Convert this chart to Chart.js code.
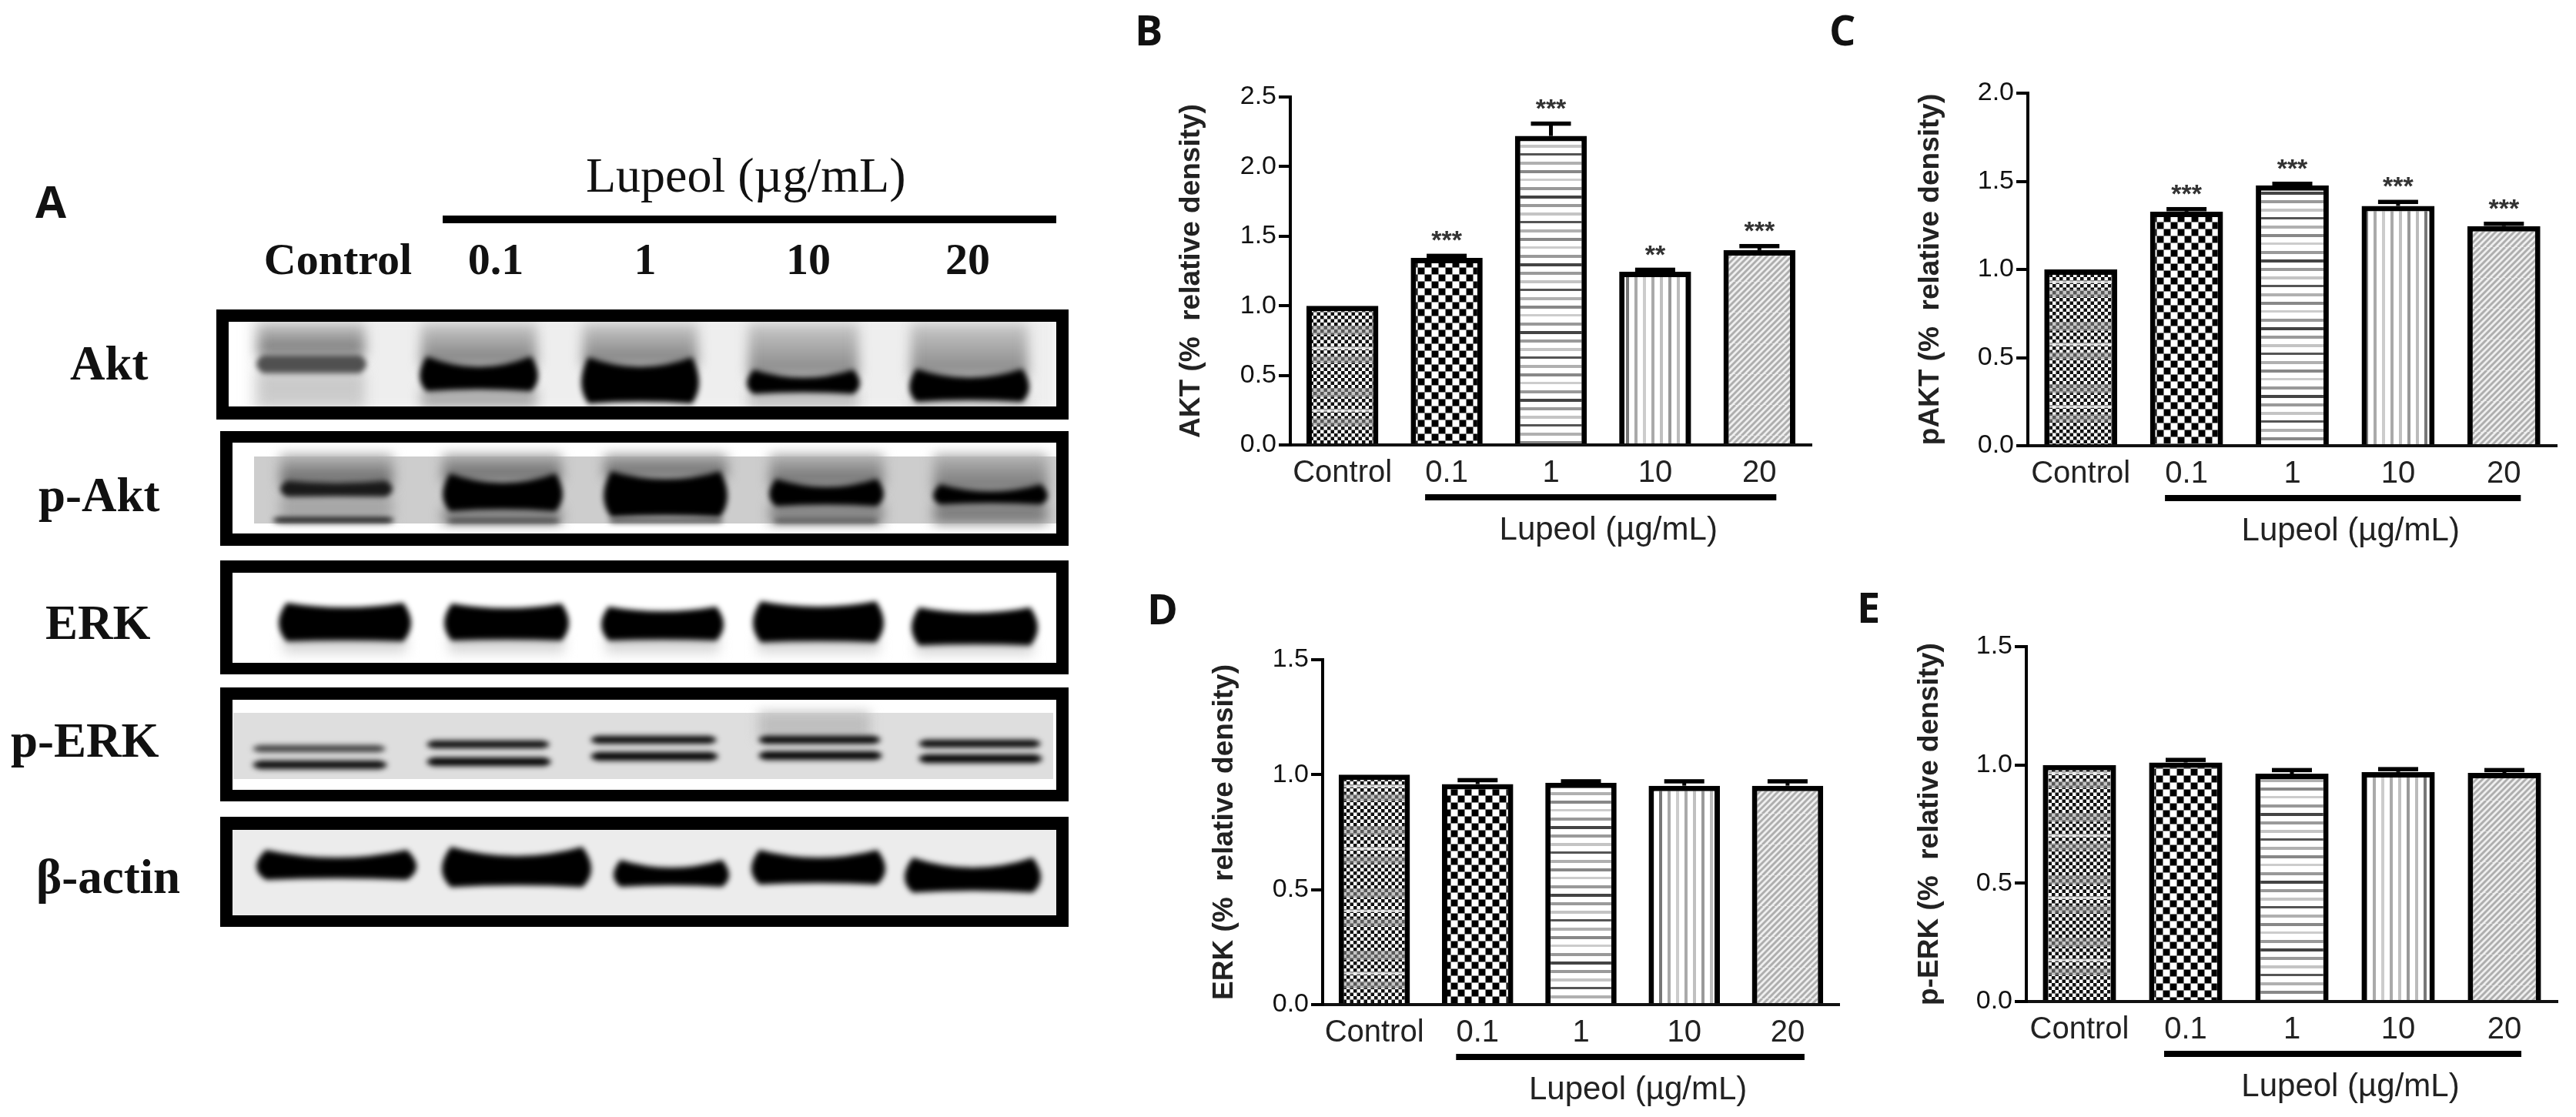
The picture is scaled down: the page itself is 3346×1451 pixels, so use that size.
<!DOCTYPE html>
<html>
<head>
<meta charset="utf-8">
<title>Lupeol western blot</title>
<script src="https://cdn.jsdelivr.net/npm/chart.js@4"></script>
<style>
  html, body { margin: 0; padding: 0; background: #fff; }
  #page { position: relative; width: 3346px; height: 1451px; overflow: hidden; background: #fff; }
  canvas { position: absolute; filter: blur(0.7px); }
  .lbl { position: absolute; white-space: nowrap; line-height: 1; color: #111; filter: blur(0.5px); }
  .serif { font-family: "Liberation Serif", serif; font-weight: bold; }
  .letter { font-family: "Open Sans", sans-serif; font-weight: bold; font-size: 54px; }
</style>
</head>
<body>
<div id="page"></div>
<script>
// ---- chart data ----
const categories = ['Control', '0.1', '1', '10', '20'];
const groupLabel = 'Lupeol (µg/mL)';

const aktValues = [1.0, 1.344, 2.22, 1.245, 1.40];
const aktErrors = [0, 0.016, 0.09, 0.015, 0.03];
const aktStars = ['', '***', '***', '**', '***'];
const aktTicks = [0, 0.5, 1, 1.5, 2, 2.5];

const pAktValues = [1.0, 1.328, 1.477, 1.36, 1.246];
const pAktErrors = [0, 0.015, 0.01, 0.024, 0.014];
const pAktStars = ['', '***', '***', '***', '***'];
const pAktTicks = [0, 0.5, 1, 1.5, 2];

const erkValues = [1.0, 0.959, 0.965, 0.952, 0.952];
const erkErrors = [0, 0.018, 0.007, 0.02, 0.02];
const pErkValues = [1.0, 1.01, 0.963, 0.97, 0.966];
const pErkErrors = [0, 0.012, 0.016, 0.013, 0.013];
const noStars = ['', '', '', '', ''];
const erkTicks = [0, 0.5, 1, 1.5];

// blot panel text
const blotNames = ['Akt', 'p-Akt', 'ERK', 'p-ERK', 'β-actin'];
const laneLabels = ['Control', '0.1', '1', '10', '20'];

// ---- blot bands: x0, x1, top, bottom, end flare, grey level (gel picture units) ----
const aktBands = [
  [333, 476, 461, 485, 0, 80], [545, 699, 476, 506, 13, 0], [755, 908, 476, 522, 12, 0],
  [970, 1117, 490, 510, 10, 0], [1181, 1337, 490, 520, 11, 0]
];
const pAktBands = [
  [364, 510, 627, 645, 3, 25], [354, 512, 672, 679, 0, 15], [575, 731, 627, 662, 12, 0],
  [784, 945, 622, 670, 10, 0], [999, 1148, 632, 656, 10, 0], [1212, 1361, 638, 654, 9, 0],
  [580, 728, 674, 679, 0, 50], [790, 940, 674, 679, 0, 50], [1004, 1142, 674, 679, 0, 70]
];
const erkBands = [
  [362, 534, 789, 832, 6, 0], [577, 739, 790, 831, 6, 0], [781, 940, 794, 831, 6, 0],
  [978, 1148, 788, 833, 7, 0], [1184, 1348, 796, 837, 7, 0]
];
const pErkBands = [
  [328, 501, 968, 977, 0, 60], [328, 503, 988, 999, 0, 10], [554, 714, 962, 972, 0, 10], [554, 716, 984, 995, 0, 0],
  [767, 931, 956, 966, 0, 5], [767, 933, 977, 988, 0, 0], [985, 1144, 956, 966, 0, 0], [985, 1146, 976, 987, 0, 0],
  [1193, 1352, 961, 971, 0, 5], [1193, 1354, 980, 991, 0, 0]
];
const actinBands = [
  [333, 541, 1114, 1141, 10, 0], [574, 768, 1112, 1150, 12, 0], [797, 947, 1127, 1150, 10, 0],
  [976, 1150, 1114, 1147, 10, 0], [1175, 1352, 1127, 1157, 13, 0]
];
// flat gel backgrounds: x0, x1, top, bottom, grey
const aktBacks = [];
const pAktBacks = [[330, 1372, 593, 680, 205]];
const erkBacks = [];
const pErkBacks = [[303, 1368, 926, 1012, 222]];
const actinBacks = [[296, 1372, 1078, 1189, 236]];
// smears: x0, x1, top, bottom, top grey, bottom grey
const aktSmears = [
  [325, 1372, 410, 535, 238, 238],
  [335, 474, 420, 462, 195, 110], [335, 474, 484, 530, 200, 205], [547, 697, 420, 476, 200, 120], [547, 697, 504, 530, 170, 170],
  [757, 906, 420, 476, 200, 120], [972, 1115, 420, 490, 200, 130], [972, 1115, 508, 530, 190, 190],
  [1183, 1335, 420, 490, 200, 130], [1183, 1335, 518, 530, 190, 190]
];
const pAktSmears = [
  [364, 510, 590, 630, 185, 90], [364, 510, 643, 675, 165, 165], [575, 729, 590, 625, 175, 90], [575, 729, 660, 680, 125, 125],
  [785, 944, 590, 620, 175, 90], [1000, 1147, 590, 632, 180, 100], [1000, 1147, 654, 680, 130, 130],
  [1213, 1360, 590, 640, 180, 110], [1213, 1360, 652, 680, 125, 125]
];
const erkSmears = [
  [368, 528, 827, 850, 190, 235], [583, 733, 827, 850, 190, 235], [787, 934, 827, 850, 190, 235],
  [984, 1142, 827, 850, 190, 235], [1190, 1342, 832, 852, 190, 235]
];
const pErkSmears = [[985, 1130, 925, 960, 190, 190]];
const actinSmears = [];

// frames: outer x0, x1, y0, y1, inner y0, y1
const blotFrames = [
  [281, 1388, 402, 545, 418, 528], [286, 1388, 560, 709, 575, 693], [286, 1388, 728, 876, 744, 861],
  [286, 1388, 893, 1041, 909, 1026], [286, 1388, 1061, 1204, 1078, 1189]
];
const blotBands = [aktBands, pAktBands, erkBands, pErkBands, actinBands];
const blotSmears = [aktSmears, pAktSmears, erkSmears, pErkSmears, actinSmears];
const blotBacks = [aktBacks, pAktBacks, erkBacks, pErkBacks, actinBacks];
const blotBaselines = [493, 664, 830, 983, 1160];
const blotNameX = [91, 50, 59, 14, 47];
const laneLabelX = [439, 644, 838, 1050, 1257];

// ---- page ----
const page = document.getElementById('page');

function addText(text, cls, css) {
  const el = document.createElement('div');
  el.className = 'lbl ' + cls;
  el.textContent = text;
  Object.assign(el.style, css);
  page.appendChild(el);
}

function addCanvas(left, top, width, height) {
  const c = document.createElement('canvas');
  c.width = width;
  c.height = height;
  c.style.left = left + 'px';
  c.style.top = top + 'px';
  c.style.width = width + 'px';
  c.style.height = height + 'px';
  page.appendChild(c);
  return c;
}

// ---- hatch patterns ----
function makeTile(w, h, draw) {
  const t = document.createElement('canvas');
  t.width = w;
  t.height = h;
  const g = t.getContext('2d');
  g.fillStyle = '#fff';
  g.fillRect(0, 0, w, h);
  draw(g);
  return document.createElement('canvas').getContext('2d').createPattern(t, 'repeat');
}

function finePattern() {
  return makeTile(27, 81, (g) => {
    const cell = 4.5;
    for (let r = 0; r < 18; r++) {
      for (let c = 0; c < 6; c++) {
        if ((r + c) % 2 === 0) {
          g.fillStyle = '#111';
          g.fillRect(c * cell, r * cell, cell, cell);
        }
      }
    }
    g.fillStyle = 'rgba(150,150,150,0.55)';
    g.fillRect(0, 14, 27, 11);
    g.fillRect(0, 52, 27, 10);
    g.fillStyle = 'rgba(235,235,235,0.8)';
    g.fillRect(0, 41, 27, 3);
  });
}

function checkerPattern() {
  return makeTile(18, 18, (g) => {
    g.fillStyle = '#888';
    g.fillRect(0, 0, 18, 1);
    g.fillRect(0, 9, 18, 1);
    g.fillRect(0, 0, 1, 18);
    g.fillRect(9, 0, 1, 18);
    g.fillStyle = '#000';
    g.fillRect(1, 1, 8, 8);
    g.fillRect(10, 10, 8, 8);
  });
}

function horizPattern() {
  const shades = ['#9a9a9a', '#c4c4c4', '#555', '#b0b0b0', '#888', '#ccc', '#999', '#444'];
  return makeTile(4, 88, (g) => {
    shades.forEach((s, i) => {
      g.fillStyle = s;
      g.fillRect(0, i * 11 + 3, 4, i % 3 === 2 ? 3 : 4);
    });
  });
}

function vertPattern() {
  const shades = ['#aaa', '#c0c0c0', '#999', '#bbb', '#777', '#aaa', '#ccc'];
  return makeTile(77, 4, (g) => {
    shades.forEach((s, i) => {
      g.fillStyle = s;
      g.fillRect(i * 11 + 3, 0, 4, 4);
    });
  });
}

function diagPattern() {
  return makeTile(40, 40, (g) => {
    g.strokeStyle = '#9c9c9c';
    g.lineWidth = 3;
    for (let i = -40; i < 80; i += 8) {
      g.beginPath();
      g.moveTo(i, 40);
      g.lineTo(i + 40, 0);
      g.stroke();
    }
    g.fillStyle = 'rgba(210,210,210,0.35)';
    g.fillRect(0, 0, 40, 40);
  });
}

const barFills = [finePattern(), checkerPattern(), horizPattern(), vertPattern(), diagPattern()];

// ---- bar panels ----
// error bars, stars, the Lupeol bracket under the doses
const barExtras = {
  id: 'barExtras',
  afterDatasetsDraw(chart, args, opts) {
    const ctx = chart.ctx;
    const xs = chart.scales.x;
    const ys = chart.scales.y;
    ctx.save();
    ctx.fillStyle = '#000';
    opts.errors.forEach((err, i) => {
      const x = xs.getPixelForValue(i);
      const top = ys.getPixelForValue(opts.values[i] + err);
      if (err > 0) {
        const base = ys.getPixelForValue(opts.values[i]);
        ctx.fillRect(x - 2.5, top, 5, base - top);
        ctx.fillRect(x - 26, top - 2.5, 52, 5.5);
      }
      if (opts.stars[i]) {
        ctx.fillStyle = '#333';
        ctx.font = 'bold 34px "Liberation Sans"';
        ctx.textAlign = 'center';
        ctx.textBaseline = 'middle';
        ctx.fillText(opts.stars[i], x, top - 18);
        ctx.fillStyle = '#000';
      }
    });
    const base = chart.chartArea.bottom;
    const x0 = xs.getPixelForValue(1) - 28;
    const x1 = xs.getPixelForValue(4) + 22;
    ctx.fillRect(x0, base + 64, x1 - x0, 8);
    ctx.fillStyle = '#222';
    ctx.font = '42px "Liberation Sans"';
    ctx.textAlign = 'center';
    ctx.textBaseline = 'middle';
    ctx.fillText(groupLabel, (x0 + x1) / 2 + 10, base + 111);
    ctx.restore();
  },
};

function barPanel(p) {
  const left = p.titleX - 23;
  const top = p.top - 40;
  const width = p.right + 5 - left;
  const height = p.bottom + 150 - top;
  const canvas = addCanvas(left, top, width, height);
  return new Chart(canvas, {
    type: 'bar',
    data: {
      labels: categories,
      datasets: [{
        data: p.values,
        backgroundColor: barFills,
        borderColor: '#000',
        borderWidth: 7,
        borderSkipped: 'bottom',
        barPercentage: 0.69,
        categoryPercentage: 1,
      }],
    },
    plugins: [barExtras],
    options: {
      responsive: false,
      animation: false,
      layout: { padding: { top: 40, right: 5, left: 0, bottom: 0 } },
      plugins: {
        legend: { display: false },
        tooltip: { enabled: false },
        barExtras: { errors: p.errors, values: p.values, stars: p.stars },
      },
      scales: {
        x: {
          offset: true,
          grid: { display: false },
          border: { display: true, color: '#111', width: 4 },
          ticks: { color: '#222', font: { family: 'Liberation Sans', size: 40 }, padding: 5, maxRotation: 0, autoSkip: false },
          afterFit(s) { s.height = 150; },
        },
        y: {
          min: 0,
          max: p.ticks[p.ticks.length - 1],
          afterBuildTicks(s) { s.ticks = p.ticks.map((v) => ({ value: v })); },
          grid: { drawOnChartArea: false, drawTicks: true, color: '#000', lineWidth: 4, tickLength: 15 },
          border: { display: true, color: '#000', width: 4 },
          ticks: {
            color: '#111',
            font: { family: 'Liberation Sans', size: 34 },
            padding: 3,
            callback: (v) => Number(v).toFixed(1),
          },
          title: {
            display: true,
            text: p.title,
            color: '#222',
            padding: 0,
            font: { family: 'Liberation Sans', size: 37, weight: 'bold' },
          },
          afterFit(s) { s.width = p.left - left; },
        },
      },
    },
  });
}

barPanel({ title: 'AKT (%  relative density)', left: 1676, right: 2353, top: 126, bottom: 578, titleX: 1549, values: aktValues, errors: aktErrors, stars: aktStars, ticks: aktTicks });
barPanel({ title: 'pAKT (%  relative density)', left: 2634, right: 3321, top: 121, bottom: 579, titleX: 2509, values: pAktValues, errors: pAktErrors, stars: pAktStars, ticks: pAktTicks });
barPanel({ title: 'ERK (%  relative density)', left: 1718, right: 2389, top: 857, bottom: 1305, titleX: 1592, values: erkValues, errors: erkErrors, stars: noStars, ticks: erkTicks });
barPanel({ title: 'p-ERK (%  relative density)', left: 2632, right: 3322, top: 840, bottom: 1301, titleX: 2508, values: pErkValues, errors: pErkErrors, stars: noStars, ticks: erkTicks });

// ---- blot panel, same x/y units as the picture ----
const blotPainter = {
  id: 'blotPainter',
  beforeDatasetsDraw(chart) {
    const ctx = chart.ctx;
    const px = (v) => chart.scales.x.getPixelForValue(v);
    const py = (v) => chart.scales.y.getPixelForValue(v);
    blotFrames.forEach((f, b) => {
      const [x0, x1, y0, y1, iy0, iy1] = f;
      ctx.save();
      ctx.fillStyle = '#000';
      ctx.fillRect(px(x0), py(y0), px(x1) - px(x0), py(y1) - py(y0));
      ctx.fillStyle = '#fff';
      const ix0 = px(x0 + 16);
      const ix1 = px(x1 - 16);
      ctx.fillRect(ix0, py(iy0), ix1 - ix0, py(iy1) - py(iy0));
      ctx.beginPath();
      ctx.rect(ix0, py(iy0), ix1 - ix0, py(iy1) - py(iy0));
      ctx.clip();

      blotBacks[b].forEach(([bx0, bx1, top, bot, g]) => {
        ctx.fillStyle = `rgb(${g},${g},${g})`;
        ctx.fillRect(px(bx0), py(top), px(bx1) - px(bx0), py(bot) - py(top));
      });

      ctx.filter = 'blur(8px)';
      blotSmears[b].forEach(([sx0, sx1, top, bot, g0, g1]) => {
        const grad = ctx.createLinearGradient(0, py(top), 0, py(bot));
        grad.addColorStop(0, `rgb(${g0},${g0},${g0})`);
        grad.addColorStop(1, `rgb(${g1},${g1},${g1})`);
        ctx.fillStyle = grad;
        ctx.fillRect(px(sx0), py(top), px(sx1) - px(sx0), py(bot) - py(top));
      });

      ctx.filter = 'blur(3.5px)';
      blotBands[b].forEach(([bx0, bx1, top, bot, flare, grey]) => {
        const l = px(bx0);
        const r = px(bx1);
        const t = py(top);
        const m = py(bot);
        const bow = (r - l) * 0.06;
        ctx.fillStyle = `rgb(${grey},${grey},${grey})`;
        ctx.beginPath();
        ctx.moveTo(l + bow, t - flare);
        ctx.quadraticCurveTo((l + r) / 2, t + flare, r - bow, t - flare);
        ctx.quadraticCurveTo(r + bow, (t + m) / 2, r - bow, m + flare * 0.2);
        ctx.quadraticCurveTo((l + r) / 2, m - flare * 0.2, l + bow, m + flare * 0.2);
        ctx.quadraticCurveTo(l - bow, (t + m) / 2, l + bow, t - flare);
        ctx.fill();
      });
      ctx.restore();
    });
  },
};

new Chart(addCanvas(0, 360, 1420, 880), {
  type: 'scatter',
  data: {
    datasets: blotBands.map((bands) => ({
      data: bands.map((b) => ({ x: (b[0] + b[1]) / 2, y: (b[2] + b[3]) / 2 })),
      pointRadius: 0,
    })),
  },
  plugins: [blotPainter],
  options: {
    responsive: false,
    animation: false,
    plugins: { legend: { display: false }, tooltip: { enabled: false } },
    layout: { padding: 0 },
    scales: {
      x: { type: 'linear', min: 0, max: 1420, display: false },
      y: { type: 'linear', min: 360, max: 1240, reverse: true, display: false },
    },
  },
});

// ---- text and rule of the blot panel, panel letters ----
addText('Lupeol (µg/mL)', '', { left: '761px', top: '196px', fontFamily: '"Liberation Serif", serif', fontSize: '64px' });
const rule = document.createElement('div');
Object.assign(rule.style, { position: 'absolute', left: '575px', top: '280px', width: '797px', height: '10px', background: '#000' });
page.appendChild(rule);

laneLabels.forEach((t, i) => {
  addText(t, 'serif', { left: laneLabelX[i] + 'px', top: '308px', fontSize: '58px', transform: 'translateX(-50%)' });
});
blotNames.forEach((t, i) => {
  addText(t, 'serif', { left: blotNameX[i] + 'px', top: (blotBaselines[i] - 52) + 'px', fontSize: '63px' });
});

addText('A', 'letter', { left: '46px', top: '232px', fontSize: '58px' });
addText('B', 'letter', { left: '1474px', top: '11px' });
addText('C', 'letter', { left: '2376px', top: '11px' });
addText('D', 'letter', { left: '1490px', top: '763px' });
addText('E', 'letter', { left: '2412px', top: '761px' });
</script>
</body>
</html>
